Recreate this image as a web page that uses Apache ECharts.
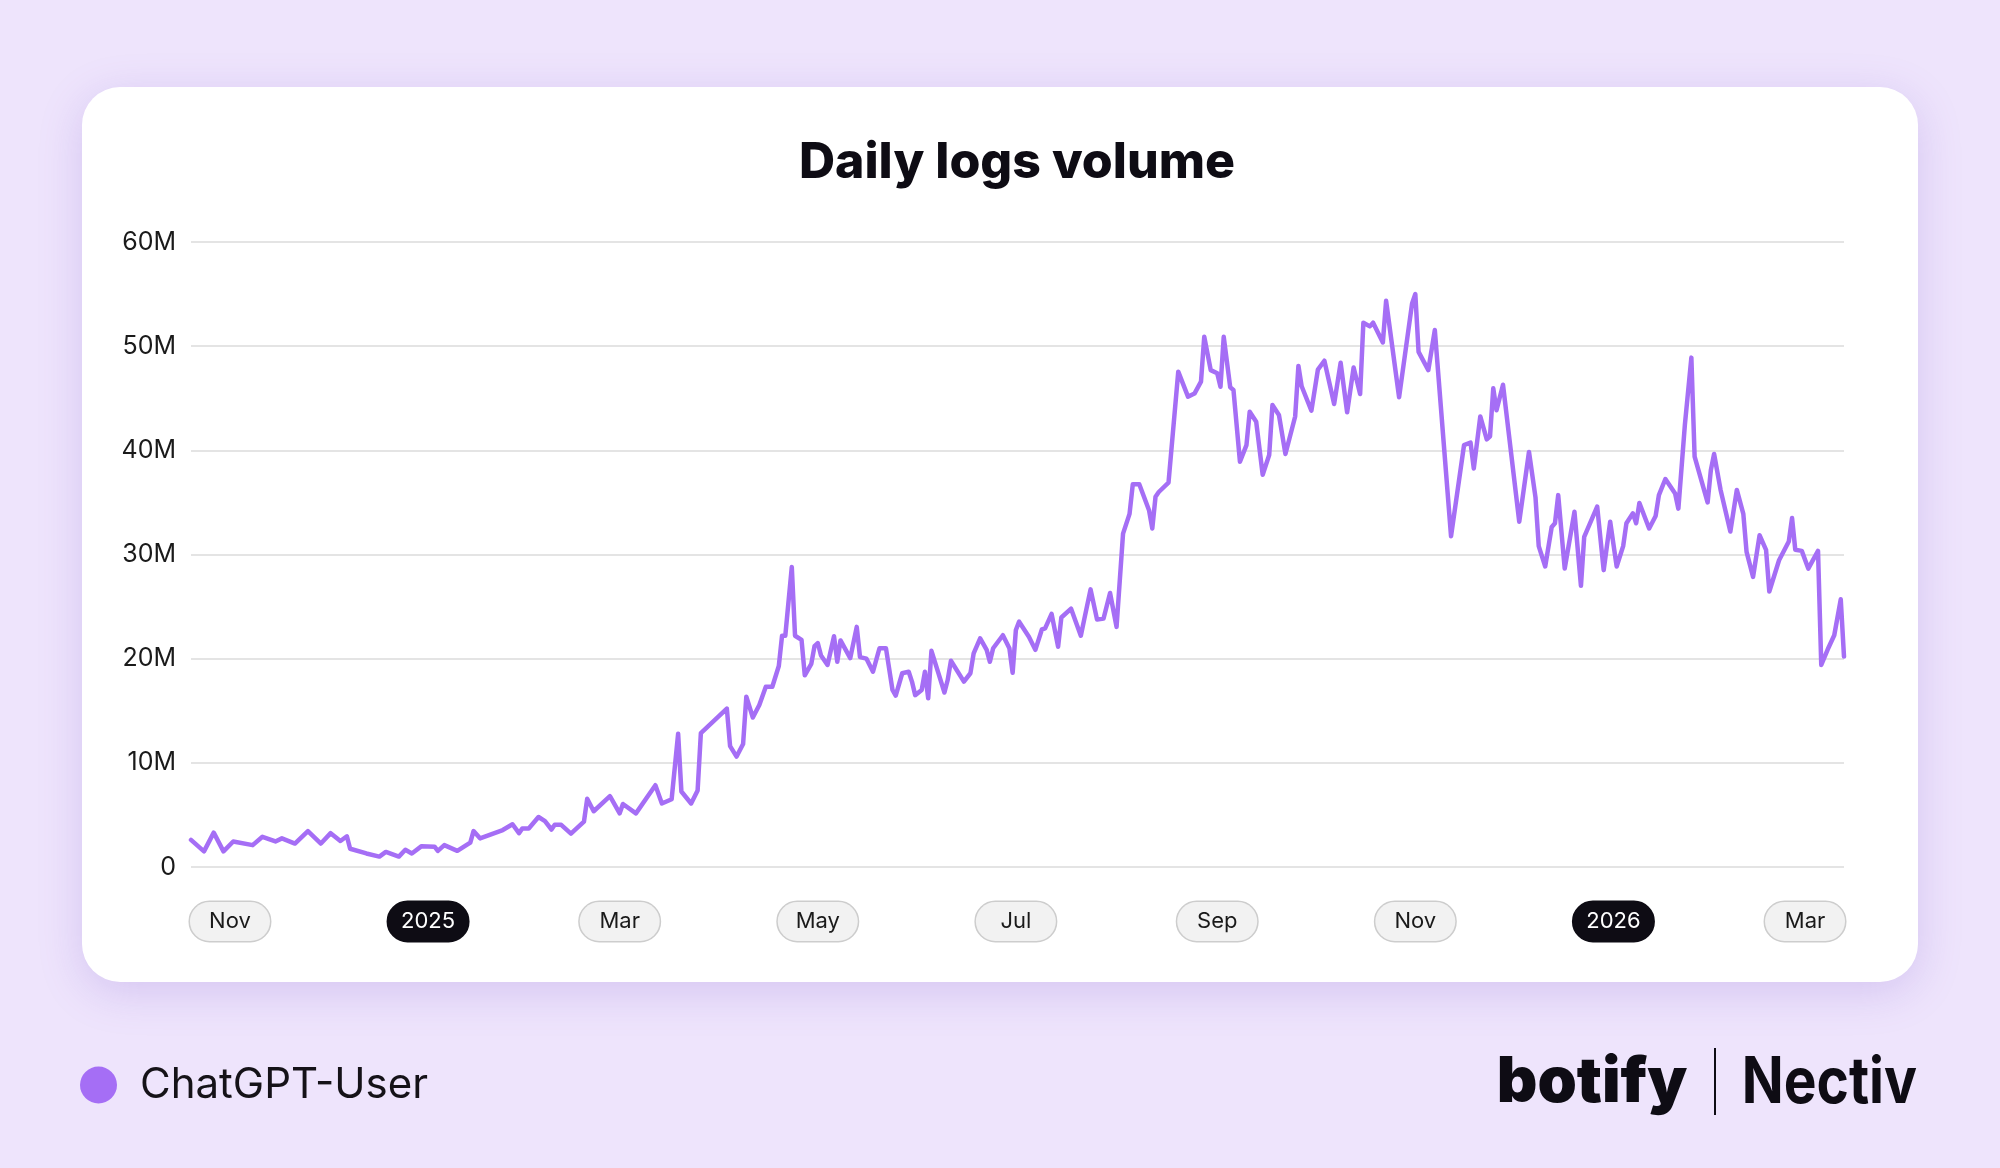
<!DOCTYPE html>
<html>
<head>
<meta charset="utf-8">
<title>Daily logs volume</title>
<script src="https://cdn.jsdelivr.net/npm/echarts@6/dist/echarts.min.js"></script>
<style>
  html, body { margin: 0; padding: 0; width: 2000px; height: 1168px; background: #EEE4FC; overflow: hidden; }
  #card { position: absolute; left: 82px; top: 87px; width: 1836px; height: 895px; background: #fff; border-radius: 38px; box-shadow: 0 10px 44px rgba(125, 85, 205, 0.22); }
  #chart { position: absolute; left: 0; top: 0; width: 2000px; height: 1168px; }
</style>
</head>
<body>
<div id="card"></div>
<div id="chart"></div>
<script>
// daily log volume, ChatGPT-User (values in millions)
const dates = [
  '2024-10-20','2024-10-24','2024-10-27','2024-10-30','2024-11-02','2024-11-08','2024-11-11','2024-11-15','2024-11-17','2024-11-21','2024-11-25','2024-11-29',
  '2024-12-02','2024-12-05','2024-12-07','2024-12-08','2024-12-13','2024-12-17','2024-12-19','2024-12-23','2024-12-25','2024-12-27','2024-12-30',
  '2025-01-03','2025-01-04','2025-01-06','2025-01-10','2025-01-14','2025-01-15','2025-01-17','2025-01-24','2025-01-27','2025-01-29','2025-01-30',
  '2025-02-01','2025-02-04','2025-02-06','2025-02-08','2025-02-09','2025-02-11','2025-02-14','2025-02-18','2025-02-19','2025-02-21','2025-02-26',
  '2025-03-01','2025-03-02','2025-03-06','2025-03-12','2025-03-14','2025-03-17','2025-03-19','2025-03-20','2025-03-23','2025-03-25','2025-03-26',
  '2025-04-03','2025-04-04','2025-04-06','2025-04-08','2025-04-09','2025-04-11','2025-04-13','2025-04-15','2025-04-17','2025-04-19','2025-04-20','2025-04-21','2025-04-23','2025-04-24','2025-04-26','2025-04-27','2025-04-29','2025-04-30',
  '2025-05-01','2025-05-02','2025-05-04','2025-05-06','2025-05-07','2025-05-08','2025-05-11','2025-05-13','2025-05-14','2025-05-16','2025-05-18','2025-05-20','2025-05-22','2025-05-24','2025-05-25','2025-05-27','2025-05-29','2025-05-30','2025-05-31',
  '2025-06-02','2025-06-03','2025-06-04','2025-06-05','2025-06-07','2025-06-09','2025-06-10','2025-06-11','2025-06-15','2025-06-17','2025-06-18','2025-06-20','2025-06-22','2025-06-23','2025-06-24','2025-06-27','2025-06-29','2025-06-30',
  '2025-07-01','2025-07-02','2025-07-05','2025-07-07','2025-07-09','2025-07-10','2025-07-12','2025-07-14','2025-07-15','2025-07-18','2025-07-21','2025-07-22','2025-07-24','2025-07-26','2025-07-28','2025-07-30',
  '2025-08-01','2025-08-03','2025-08-05','2025-08-06','2025-08-08','2025-08-11','2025-08-12','2025-08-13','2025-08-14','2025-08-17','2025-08-20','2025-08-23','2025-08-25','2025-08-27','2025-08-28','2025-08-30',
  '2025-09-01','2025-09-02','2025-09-03','2025-09-05','2025-09-06','2025-09-08','2025-09-10','2025-09-11','2025-09-13','2025-09-15','2025-09-17','2025-09-18','2025-09-20','2025-09-22','2025-09-25','2025-09-26','2025-09-27','2025-09-30',
  '2025-10-02','2025-10-04','2025-10-07','2025-10-09','2025-10-11','2025-10-13','2025-10-15','2025-10-16','2025-10-18','2025-10-19','2025-10-22','2025-10-23','2025-10-27','2025-10-31',
  '2025-11-01','2025-11-02','2025-11-05','2025-11-07','2025-11-12','2025-11-16','2025-11-18','2025-11-19','2025-11-21','2025-11-23','2025-11-24','2025-11-25','2025-11-26','2025-11-28',
  '2025-12-03','2025-12-06','2025-12-08','2025-12-09','2025-12-11','2025-12-13','2025-12-14','2025-12-15','2025-12-17','2025-12-20','2025-12-22','2025-12-23','2025-12-27','2025-12-29','2025-12-31',
  '2026-01-02','2026-01-04','2026-01-05','2026-01-07','2026-01-08','2026-01-09','2026-01-12','2026-01-14','2026-01-15','2026-01-17','2026-01-20','2026-01-21','2026-01-23','2026-01-25','2026-01-26','2026-01-30','2026-01-31',
  '2026-02-01','2026-02-03','2026-02-06','2026-02-08','2026-02-10','2026-02-11','2026-02-13','2026-02-15','2026-02-17','2026-02-18','2026-02-21','2026-02-24','2026-02-25','2026-02-26','2026-02-28',
  '2026-03-02','2026-03-05','2026-03-06','2026-03-08','2026-03-10','2026-03-12','2026-03-13'
]
const volumeM = [
  2.6,1.5,3.3,1.5,2.45,2.1,2.9,2.45,2.75,2.25,3.45,2.25,
  3.25,2.5,2.95,1.75,1.3,1.0,1.45,1.0,1.65,1.3,2.0,
  1.95,1.55,2.1,1.55,2.35,3.45,2.75,3.55,4.1,3.25,3.7,
  3.7,4.8,4.4,3.6,4.05,4.05,3.2,4.35,6.55,5.35,6.8,
  5.15,6.05,5.15,7.85,6.1,6.5,12.8,7.25,6.1,7.35,12.85,
  15.2,11.6,10.6,11.8,16.35,14.35,15.55,17.3,17.3,19.3,22.2,22.2,28.8,22.2,21.8,18.4,19.5,21.2,
  21.5,20.3,19.4,22.15,19.7,21.75,20.05,23.05,20.15,20.0,18.75,21.0,21.0,17.0,16.45,18.6,18.75,17.8,16.5,
  17.0,18.75,16.2,20.75,18.75,16.75,17.95,19.8,17.8,18.6,20.5,21.95,20.85,19.7,21.0,22.25,21.0,18.65,
  22.75,23.55,22.1,20.85,22.8,22.9,24.3,21.15,23.95,24.8,22.2,23.7,26.65,23.75,23.85,26.3,
  23.05,32.0,33.9,36.75,36.75,34.25,32.5,35.55,36.0,36.9,47.55,45.15,45.45,46.6,50.9,47.7,
  47.4,46.1,50.9,46.05,45.8,38.9,40.5,43.7,42.75,37.65,39.55,44.35,43.4,39.65,43.25,48.1,46.15,43.8,
  47.75,48.6,44.45,48.4,43.65,47.95,45.4,52.25,51.9,52.25,50.35,54.35,45.1,54.1,
  55.0,49.45,47.7,51.55,31.75,40.5,40.75,38.25,43.25,41.05,41.35,45.95,43.85,46.3,
  33.15,39.85,35.5,30.8,28.85,32.65,33.0,35.7,28.65,34.1,27.0,31.7,34.6,28.5,33.15,
  28.85,30.8,33.0,33.95,33.0,34.95,32.5,33.7,35.7,37.25,35.85,34.4,42.45,48.9,39.4,35.0,38.1,
  39.65,36.2,32.2,36.2,33.9,30.25,27.85,31.85,30.45,26.45,29.45,31.25,33.5,30.45,30.35,
  28.65,30.35,19.4,20.9,22.25,25.7,20.2
]
// x axis pills
const tickDates = ['2024-11-01','2025-01-01','2025-03-01','2025-05-01','2025-07-01','2025-09-01','2025-11-01','2026-01-01','2026-03-01']
const tickLabels = ['Nov','2025','Mar','May','Jul','Sep','Nov','2026','Mar']
const seriesName = 'ChatGPT-User'
const lineColor = '#A56EF5'

function ts(s) {
  const p = s.split('-').map(Number)
  return new Date(p[0], p[1] - 1, p[2]).getTime()
}
const tickTimes = tickDates.map(ts)
const FONT = 'Inter, "Noto Sans", sans-serif'

const pill = {
  width: 80, height: 39, lineHeight: 39, align: 'center',
  borderRadius: 20, borderWidth: 1.5, fontSize: 22, fontFamily: FONT
}

const chart = echarts.init(document.getElementById('chart'), null, { renderer: 'canvas' })
chart.setOption({
  animation: false,
  grid: { left: 191, right: 156, top: 242, bottom: 301, containLabel: false },
  legend: {
    data: [seriesName],
    left: 80,
    top: 1064,
    icon: 'circle',
    itemWidth: 37,
    itemHeight: 37,
    padding: 0,
    textStyle: { fontSize: 42, lineHeight: 42, color: '#151218', fontFamily: FONT, padding: [0, 0, 0, 18] }
  },
  xAxis: {
    // timestamps on a plain value axis so the pill labels sit on the month starts
    type: 'value',
    min: ts(dates[0]),
    max: ts(dates[dates.length - 1]),
    axisLine: { show: false },
    axisTick: { show: false },
    splitLine: { show: false },
    axisLabel: {
      customValues: tickTimes,
      margin: 35,
      hideOverlap: false,
      formatter: function (val) {
        let best = 0
        tickTimes.forEach((t, i) => { if (Math.abs(t - val) < Math.abs(tickTimes[best] - val)) best = i })
        const lab = tickLabels[best]
        return /^\d{4}$/.test(lab) ? '{yr|' + lab + '}' : '{mo|' + lab + '}'
      },
      rich: {
        mo: Object.assign({}, pill, { backgroundColor: '#F2F2F2', borderColor: '#CDCDCD', color: '#1A1A1A' }),
        yr: Object.assign({}, pill, { backgroundColor: '#0E0C14', borderColor: '#0E0C14', color: '#FFFFFF' })
      }
    }
  },
  yAxis: {
    type: 'value',
    min: 0,
    max: 60e6,
    interval: 10e6,
    axisLine: { show: false },
    axisTick: { show: false },
    splitLine: { lineStyle: { color: '#E4E4E4', width: 2 } },
    axisLabel: {
      margin: 15,
      fontSize: 25,
      color: '#1A1A1A',
      fontFamily: FONT,
      formatter: v => v === 0 ? '0' : (v / 1e6) + 'M'
    }
  },
  series: [{
    name: seriesName,
    type: 'line',
    symbol: 'none',
    showSymbol: false,
    itemStyle: { color: lineColor },
    lineStyle: { color: lineColor, width: 4.5, join: 'round', cap: 'round' },
    data: dates.map((d, i) => [ts(d), volumeM[i] * 1e6])
  }],
  graphic: [
    {
      type: 'text', x: 1017, y: 163,
      style: { text: 'Daily logs volume', fill: '#0E0C14', font: '800 50px ' + FONT,
        textAlign: 'center', textVerticalAlign: 'middle', align: 'center', verticalAlign: 'middle' }
    },
    {
      type: 'text', x: 1592, y: 1083,
      style: { text: 'botify', fill: '#0E0C14', font: '900 63px ' + FONT,
        textAlign: 'center', textVerticalAlign: 'middle', align: 'center', verticalAlign: 'middle' }
    },
    {
      type: 'line',
      shape: { x1: 1715, y1: 1048, x2: 1715, y2: 1115 },
      style: { stroke: '#0E0C14', lineWidth: 2 }
    },
    {
      type: 'text', x: 1917, y: 1084, scaleX: 0.86,
      style: { text: 'Nectiv', fill: '#0E0C14', font: '700 64px ' + FONT,
        textAlign: 'right', textVerticalAlign: 'middle', align: 'right', verticalAlign: 'middle' }
    }
  ]
})
</script>
</body>
</html>
